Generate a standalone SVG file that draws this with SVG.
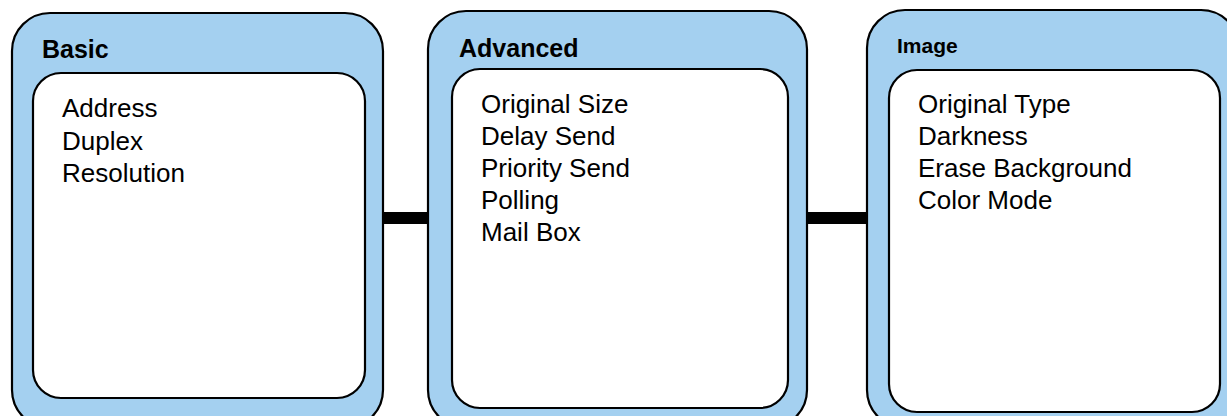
<svg xmlns="http://www.w3.org/2000/svg" width="1227" height="416" viewBox="0 0 1227 416">
<style>
.outer{fill:#A4D0F0;stroke:#000;stroke-width:2.2}
.inner{fill:#fff;stroke:#000;stroke-width:2.2}
.head{font-family:"Liberation Sans",Arial,sans-serif;font-weight:bold;font-size:25px;fill:#000}
.item{font-family:"Liberation Sans",Arial,sans-serif;font-size:26px;fill:#000}
.conn{stroke:#000;stroke-width:12;fill:none}
</style>
<rect width="1227" height="416" fill="#fff"/>
<g id="connectors">
<line class="conn" x1="382" y1="218" x2="430" y2="218"/>
<line class="conn" x1="806" y1="218" x2="868" y2="218"/>
</g>
<g id="basic">
<rect class="outer" x="12" y="13" width="371" height="415" rx="38"/>
<rect class="inner" x="33" y="73" width="332" height="325" rx="28"/>
<text class="head" x="42" y="58">Basic</text>
<text class="item" x="62" y="117">Address</text>
<text class="item" x="62" y="150">Duplex</text>
<text class="item" x="62" y="182">Resolution</text>
</g>
<g id="advanced">
<rect class="outer" x="428" y="11" width="379" height="417" rx="38"/>
<rect class="inner" x="452" y="69" width="336" height="339" rx="28"/>
<text class="head" x="459" y="57">Advanced</text>
<text class="item" x="481" y="113">Original Size</text>
<text class="item" x="481" y="145">Delay Send</text>
<text class="item" x="481" y="177">Priority Send</text>
<text class="item" x="481" y="209">Polling</text>
<text class="item" x="481" y="241">Mail Box</text>
</g>
<g id="image">
<rect class="outer" x="867" y="10" width="372" height="418" rx="38"/>
<rect class="inner" x="889" y="70" width="331" height="342" rx="28"/>
<text class="head" x="897" y="53" style="font-size:21px">Image</text>
<text class="item" x="918" y="113">Original Type</text>
<text class="item" x="918" y="145">Darkness</text>
<text class="item" x="918" y="177">Erase Background</text>
<text class="item" x="918" y="209">Color Mode</text>
</g>
</svg>
